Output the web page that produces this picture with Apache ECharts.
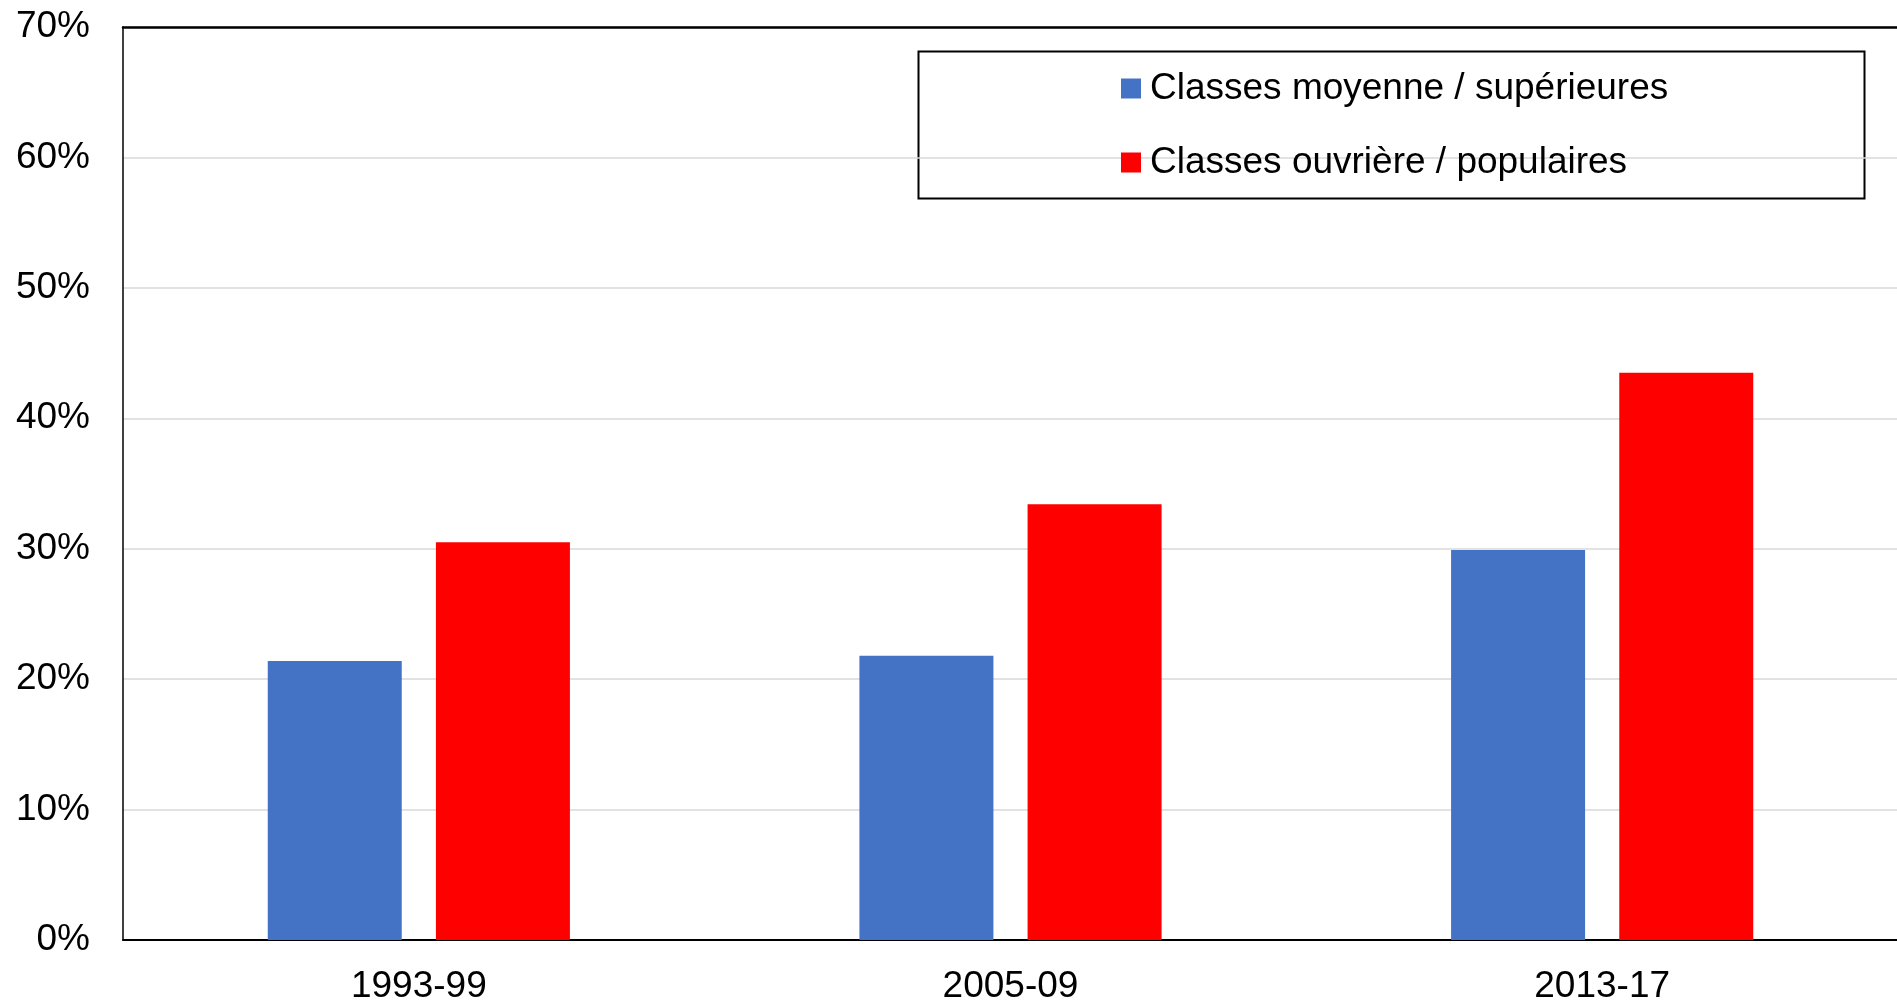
<!DOCTYPE html>
<html>
<head>
<meta charset="utf-8">
<script src="https://cdn.jsdelivr.net/npm/echarts@6/dist/echarts.min.js"></script>
<style>
html,body{margin:0;padding:0;background:#fff;}
#c{width:1897px;height:1002px;}
</style>
</head>
<body>
<div id="c"></div>
<script>
const categories = ['1993-99', '2005-09', '2013-17'];
const seriesNames = ['Classes moyenne / supérieures', 'Classes ouvrière / populaires'];
const middleUpper = [21.4, 21.8, 29.9];
const workingPopular = [30.5, 33.4, 43.5];
const yTicks = { min: 0, max: 70, interval: 10 };

const FONT = '"Liberation Sans", Arial, sans-serif';
const chart = echarts.init(document.getElementById('c'), null, { renderer: 'canvas' });
chart.setOption({
  animation: false,
  backgroundColor: '#fff',
  textStyle: { fontFamily: FONT },
  grid: { left: 123, right: -1, top: 27, bottom: 62, containLabel: false, outerBoundsMode: 'none' },
  legend: {
    orient: 'vertical',
    left: 1121,
    top: 70,
    padding: 0,
    itemWidth: 20,
    itemHeight: 20,
    itemGap: 37,
    icon: 'rect',
    textStyle: { fontSize: 37, color: '#000', fontFamily: FONT, lineHeight: 37, padding: [0, 0, 0, 4] },
    data: seriesNames
  },
  graphic: [{
    type: 'rect',
    left: 916, top: 49,
    shape: { width: 946, height: 147 },
    style: { fill: 'none', stroke: '#000', lineWidth: 2 },
    z: 0
  }],
  xAxis: [{
    type: 'category',
    data: categories,
    axisLine: { show: true, lineStyle: { color: '#000', width: 2 } },
    axisTick: { show: false },
    axisLabel: { fontSize: 37, color: '#000', margin: 28, fontFamily: FONT },
    splitLine: { show: false }
  }, {
    type: 'category',
    position: 'top',
    data: categories,
    axisLine: { show: true, lineStyle: { color: '#000', width: 2.5 } },
    axisTick: { show: false },
    axisLabel: { show: false },
    splitLine: { show: false }
  }],
  yAxis: {
    type: 'value',
    min: yTicks.min, max: yTicks.max, interval: yTicks.interval,
    axisLine: { show: true, lineStyle: { color: '#000', width: 1.5 } },
    axisTick: { show: false },
    axisLabel: { fontSize: 37, color: '#000', margin: 33, formatter: '{value}%', fontFamily: FONT },
    splitLine: { show: true, lineStyle: { color: '#d9d9d9', width: 1.5 } }
  },
  series: [{
    name: seriesNames[0],
    type: 'bar',
    data: middleUpper,
    barWidth: 134,
    barGap: '25.5%',
    itemStyle: { color: '#4472c4' }
  }, {
    name: seriesNames[1],
    type: 'bar',
    data: workingPopular,
    barWidth: 134,
    barGap: '25.5%',
    itemStyle: { color: '#ff0000' }
  }]
});
</script>
</body>
</html>
